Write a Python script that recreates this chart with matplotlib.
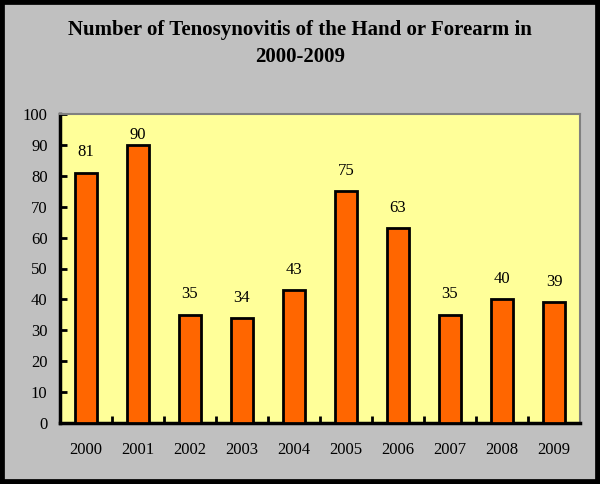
import matplotlib.pyplot as plt
import numpy as np
from matplotlib.patches import Rectangle

years = ['2000', '2001', '2002', '2003', '2004', '2005', '2006', '2007', '2008', '2009']
cases = [81, 90, 35, 34, 43, 75, 63, 35, 40, 39]

plt.rcParams['font.family'] = 'Liberation Serif'

fig = plt.figure(figsize=(6, 4.84), dpi=100, facecolor='#C0C0C0')
# outer black frame
fig.patches.append(Rectangle((0, 0), 1, 1, transform=fig.transFigure, fill=False,
                             edgecolor='black', linewidth=7))

ax = fig.add_axes([60/600, 1 - 423/484, 520/600, 309/484])
ax.set_facecolor('#FFFF99')

x = np.arange(len(years))
ax.bar(x, cases, width=0.42, color='#FF6600', edgecolor='black', linewidth=2, zorder=3)

# value labels (the tallest one is kept inside the plot area)
for xi, v in zip(x, cases):
    ax.text(xi, min(v + 4, 90.6), str(v), ha='center', va='bottom', fontsize=12)

ax.set_xlim(-0.5, len(years) - 0.5)
ax.set_ylim(0, 100)
ax.set_yticks(range(0, 101, 10))
ax.tick_params(axis='y', direction='in', length=5, width=2, labelsize=12, pad=9)

# category labels, ticks between categories
ax.set_xticks(x)
ax.set_xticklabels(years, fontsize=12)
ax.tick_params(axis='x', length=0, pad=14)
ax.set_xticks(np.arange(0.5, len(years) - 0.5), minor=True)
ax.tick_params(axis='x', which='minor', direction='in', length=5, width=2)

for side in ['left', 'bottom']:
    ax.spines[side].set_linewidth(2.5)
for side in ['top', 'right']:
    ax.spines[side].set_color('#808080')
    ax.spines[side].set_linewidth(1.5)

fig.text(0.5, 1 - 30/484, 'Number of Tenosynovitis of the Hand or Forearm in',
         ha='center', va='center', fontsize=15, fontweight='bold')
fig.text(0.5, 1 - 57/484, '2000-2009', ha='center', va='center',
         fontsize=15, fontweight='bold')

fig.savefig('out.png', dpi=100, facecolor=fig.get_facecolor())
